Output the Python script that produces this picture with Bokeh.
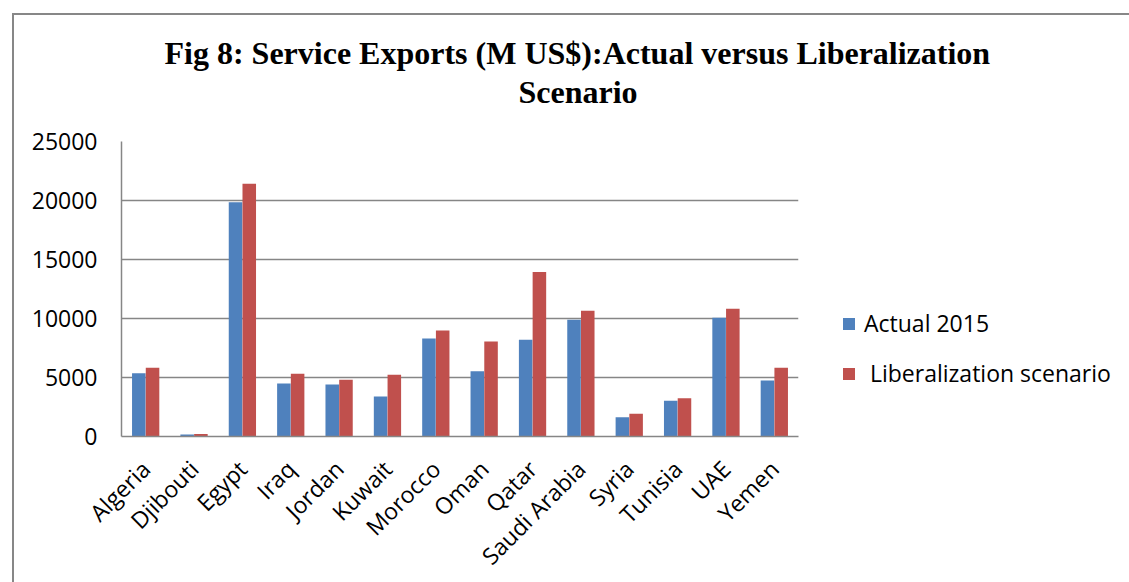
import math
from bokeh.plotting import figure
from bokeh.models import (ColumnDataSource, Legend, LegendItem, Title,
                          FactorRange, FixedTicker, Range1d)
from bokeh.transform import dodge
from bokeh.embed import file_html
from bokeh.resources import INLINE

countries = ["Algeria", "Djibouti", "Egypt", "Iraq", "Jordan", "Kuwait", "Morocco",
             "Oman", "Qatar", "Saudi Arabia", "Syria", "Tunisia", "UAE", "Yemen"]
actual_2015 = [5360, 170, 19860, 4490, 4400, 3390, 8300,
               5540, 8190, 9890, 1640, 3020, 10060, 4745]
liberalization = [5820, 220, 21410, 5310, 4800, 5225, 8980,
                  8050, 13950, 10650, 1920, 3250, 10820, 5820]
y_ticks = [0, 5000, 10000, 15000, 20000, 25000]
series_names = ["Actual 2015", " Liberalization scenario"]
title_lines = ["Fig 8: Service Exports (M US$):Actual versus Liberalization", "Scenario"]

BLUE = "#4F81BD"
RED = "#C0504D"
GREY = "#868686"
FONT = "Open Sans"

source = ColumnDataSource(data=dict(country=countries, actual=actual_2015, lib=liberalization))

# figure canvas starts at (14, 15) of the window because of the CSS margin + border
p = figure(frame_width=677, frame_height=295, x_range=FactorRange(factors=countries),
           y_range=Range1d(0, 25000), output_backend="svg", toolbar_location=None,
           min_border_left=107, min_border_right=0, min_border_top=126,
           min_border_bottom=146)
p.styles = {"margin-left": "12px", "margin-top": "13px",
            "border-left": "2px solid #878787", "border-top": "2px solid #878787"}
p.background_fill_color = "white"
p.border_fill_color = "white"
p.outline_line_color = None

r1 = p.vbar(x=dodge("country", -0.142, range=p.x_range), top="actual", width=0.28,
            source=source, fill_color=BLUE, line_color=None)
r2 = p.vbar(x=dodge("country", 0.142, range=p.x_range), top="lib", width=0.28,
            source=source, fill_color=RED, line_color=None)

# axes
p.yaxis.ticker = FixedTicker(ticks=y_ticks)
p.yaxis.major_tick_in = 0
p.yaxis.major_tick_out = 0
p.yaxis.minor_tick_in = 0
p.yaxis.minor_tick_out = 0
p.yaxis.major_label_standoff = 24
p.yaxis.axis_line_color = GREY
p.yaxis.axis_line_width = 1.5
p.yaxis.major_label_text_font = FONT
p.yaxis.major_label_text_font_size = "23px"
p.yaxis.major_label_text_color = "black"

p.xaxis.major_tick_in = 0
p.xaxis.major_tick_out = 0
p.xaxis.axis_line_color = GREY
p.xaxis.axis_line_width = 1.5
p.xaxis.major_label_orientation = math.pi / 4
p.xaxis.major_label_standoff = 28
p.xaxis.major_label_text_font = FONT
p.xaxis.major_label_text_font_size = "23px"
p.xaxis.major_label_text_color = "black"

p.xgrid.grid_line_color = None
p.ygrid.grid_line_color = GREY
p.ygrid.grid_line_width = 1.5

# legend in the right-hand panel
legend = Legend(items=[LegendItem(label=series_names[0], renderers=[r1]),
                       LegendItem(label=series_names[1], renderers=[r2])],
                location=(43, 47), orientation="vertical")
legend.border_line_color = None
legend.background_fill_alpha = 0
legend.padding = 0
legend.margin = 0
legend.glyph_width = 15
legend.glyph_height = 15
legend.label_height = 28
legend.spacing = 18
legend.label_standoff = 8
legend.label_text_font = FONT
legend.label_text_font_size = "23px"
legend.label_text_color = "black"
p.add_layout(legend, "right")

# two-line title, stacked in the top panel (first added sits closest to the frame)
spacer = Title(text=" ", text_font_size="1px", standoff=29)
t2 = Title(text=title_lines[1], align="left", offset=397, text_font="Liberation Serif",
           text_font_style="bold", text_font_size="32px", text_color="black",
           standoff=0)
t1 = Title(text=title_lines[0], align="left", offset=43, text_font="Liberation Serif",
           text_font_style="bold", text_font_size="32px", text_color="black",
           standoff=2)
p.add_layout(spacer, "above")
p.add_layout(t2, "above")
p.add_layout(t1, "above")

open("out.html", "w").write(file_html(p, INLINE))
